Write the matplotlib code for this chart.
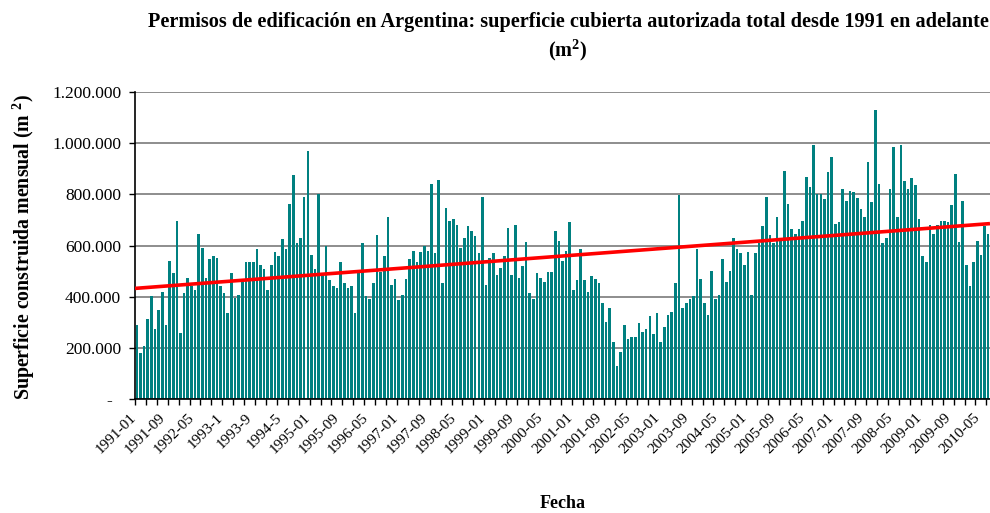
import numpy as np
import matplotlib
matplotlib.use('Agg')
import matplotlib.pyplot as plt
from matplotlib.ticker import FuncFormatter
from matplotlib.transforms import ScaledTranslation

# superficie mensual autorizada, miles de m2, desde 1991-01
miles_m2 = [
    289, 180, 206, 311, 403, 274, 347, 417, 289, 538, 491, 695, 257, 413, 472, 442, 425, 644, 589, 472,
    547, 558, 550, 441, 413, 335, 491, 394, 405,
    457, 534, 534, 534, 585, 523, 507, 425, 523, 573, 558, 624, 585, 761, 875, 609, 628, 788, 968, 562,
    507, 800, 484, 597, 464, 441, 433, 534, 452,
    433, 441, 335, 491, 609, 401, 390, 452, 640, 495, 558, 710, 444, 468, 386, 405, 468, 546, 577, 534,
    573, 597, 577, 839, 570, 855, 452, 745, 695,
    702, 679, 589, 628, 675, 656, 636, 570, 788, 444, 550, 570, 484, 511, 558, 667, 484, 679, 472, 519,
    613, 413, 390, 491, 472, 456, 495, 495, 656,
    616, 538, 577, 691, 425, 464, 585, 464, 417, 480, 468, 452, 374, 300, 354, 222, 128, 182, 288, 233,
    241, 241, 296, 261, 272, 323, 253, 335,
    222, 280, 327, 339, 452, 796, 354, 374, 390, 401, 585, 468, 374, 327, 499, 390, 405, 546, 456, 499,
    628, 585, 570, 523, 573, 405, 570, 609, 675,
    788, 640, 609, 710, 616, 890, 761, 663, 644, 663, 695, 867, 828, 992, 800, 800, 781, 886, 945, 683,
    691, 820, 773, 812, 808, 785, 742, 710, 925,
    769, 1129, 839, 609, 628, 820, 984, 710, 992, 851, 820, 863, 835, 702, 558, 534, 679, 644, 679, 695,
    695, 691, 757, 878, 613, 773, 523, 441, 534, 616, 562, 675, 644,
]
etiquetas = ['1991-01', '1991-09', '1992-05', '1993-1', '1993-9', '1994-5', '1995-01', '1995-09',
             '1996-05', '1997-01', '1997-09', '1998-05', '1999-01', '1999-09', '2000-05', '2001-01',
             '2001-09', '2002-05', '2003-01', '2003-09', '2004-05', '2005-01', '2005-09', '2006-05',
             '2007-01', '2007-09', '2008-05', '2009-01', '2009-09', '2010-05']

plt.rcParams['font.family'] = ['Liberation Serif', 'DejaVu Serif']
plt.rcParams['mathtext.default'] = 'regular'

valores = np.array(miles_m2) * 1000.0
n = len(valores)
x = np.arange(n)

fig = plt.figure(figsize=(9.9, 5.13), dpi=100)
ax = fig.add_axes([135/990, 1-399/513, 855/990, 307/513])

ax.bar(x, valores, width=0.72, color='#008080', zorder=2)

# tendencia lineal (como la de excel)
coef = np.polyfit(x, valores, 1)
ax.plot(x[[0, -1]], np.polyval(coef, x[[0, -1]]), color='red', lw=2.6, zorder=3)

ax.set_xlim(-0.5, n-0.5)
ax.set_ylim(0, 1200000)
ax.set_yticks(np.arange(0, 1200001, 200000))
ax.yaxis.set_major_formatter(FuncFormatter(
    lambda v, p: '-  ' if v == 0 else f'{int(v):,}'.replace(',', '.')))
ax.grid(axis='y', color='#858585', lw=1.3, zorder=0)
ax.set_axisbelow(True)

for s in ['top', 'right']:
    ax.spines[s].set_visible(False)
ax.spines['left'].set_linewidth(1.2)
ax.spines['bottom'].set_linewidth(1.2)

ax.set_xticks(np.arange(0, n, 8))
ax.set_xticklabels(etiquetas, rotation=45, ha='right', va='center', rotation_mode='anchor', fontsize=11)
ax.set_xticks(np.arange(-0.5, n, 3), minor=True)
ax.tick_params(axis='x', which='major', length=0, pad=12)
ax.tick_params(axis='x', which='minor', length=4, width=1)
ax.tick_params(axis='y', length=4, width=1, pad=6, labelsize=12.5)
for lab in ax.get_xticklabels():
    lab.set_transform(lab.get_transform() + ScaledTranslation(-0.03, 0, fig.dpi_scale_trans))

fig.text(568/990, 1-22/513,
         'Permisos de edificación en Argentina: superficie cubierta autorizada total desde 1991 en adelante',
         ha='center', va='center', fontsize=14.6, fontweight='bold')
fig.text(568/990, 1-50/513, '(m$^2$)', ha='center', va='center', fontsize=14.6, fontweight='bold')
fig.text(24/990, 1-247/513, 'Superficie construida mensual (m $^2$)', rotation=90,
         ha='center', va='center', fontsize=14.3, fontweight='bold')
fig.text(563/990, 1-504/513, 'Fecha', ha='center', va='center', fontsize=13, fontweight='bold')

fig.savefig('out.png', dpi=100)
